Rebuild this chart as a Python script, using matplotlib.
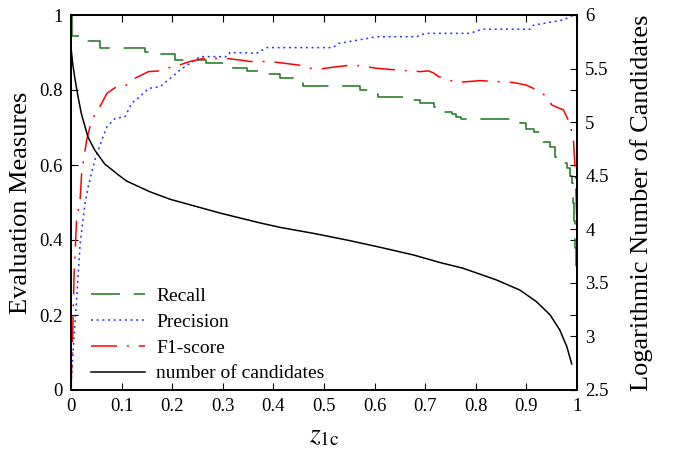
import numpy as np
import matplotlib
matplotlib.use("Agg")
import matplotlib.pyplot as plt
from matplotlib.ticker import FormatStrFormatter

plt.rcParams['font.family'] = ['Liberation Serif', 'DejaVu Serif']
plt.rcParams['mathtext.fontset'] = 'stix'

# ---------------- data ----------------
# Recall (step curve)
recall_x = [0.0, 0.002, 0.034, 0.057, 0.146, 0.176, 0.206, 0.267, 0.32, 0.347,
            0.38, 0.413, 0.44, 0.459, 0.571, 0.594, 0.607, 0.663, 0.69, 0.706,
            0.718, 0.729, 0.752, 0.76, 0.77, 0.887, 0.90, 0.915, 0.933, 0.947,
            0.957, 0.973, 0.98, 0.986, 0.99, 0.993, 0.995, 0.997, 0.999, 1.0]
recall_y = [1.0, 0.945, 0.931, 0.911, 0.902, 0.895, 0.88, 0.871, 0.858, 0.851,
            0.842, 0.832, 0.822, 0.811, 0.80, 0.79, 0.782, 0.773, 0.765, 0.765,
            0.755, 0.742, 0.735, 0.727, 0.722, 0.711, 0.695, 0.689, 0.662, 0.649,
            0.622, 0.605, 0.591, 0.57, 0.551, 0.50, 0.45, 0.38, 0.32, 0.32]

# Precision
prec_x = [0.0, 0.001, 0.0046, 0.011, 0.018, 0.028, 0.034, 0.047, 0.061, 0.071,
          0.087, 0.107, 0.12, 0.136, 0.153, 0.176, 0.196, 0.215, 0.235, 0.255,
          0.308, 0.314, 0.367, 0.387, 0.518, 0.528, 0.558, 0.604, 0.683, 0.70,
          0.789, 0.812, 0.907, 0.914, 0.953, 0.973, 0.993, 1.0]
prec_y = [0.0, 0.03, 0.115, 0.24, 0.39, 0.50, 0.542, 0.613, 0.667, 0.702,
          0.724, 0.729, 0.765, 0.782, 0.804, 0.809, 0.831, 0.853, 0.871, 0.889,
          0.889, 0.90, 0.898, 0.913, 0.913, 0.924, 0.931, 0.942, 0.942, 0.951,
          0.951, 0.962, 0.962, 0.973, 0.982, 0.987, 1.0, 1.0]

# F1-score
f1_x = [0.0, 0.0033, 0.006, 0.011, 0.018, 0.021, 0.031, 0.041, 0.057, 0.071,
        0.09, 0.11, 0.12, 0.153, 0.176, 0.189, 0.215, 0.235, 0.261, 0.308,
        0.334, 0.354, 0.393, 0.453, 0.472, 0.492, 0.525, 0.558, 0.604, 0.647,
        0.69, 0.706, 0.716, 0.726, 0.762, 0.808, 0.874, 0.90, 0.927, 0.943,
        0.95, 0.973, 0.986, 0.993, 0.996, 0.998, 0.999, 1.0]
f1_y = [0.0, 0.152, 0.302, 0.453, 0.507, 0.578, 0.667, 0.72, 0.755, 0.791,
        0.809, 0.813, 0.827, 0.849, 0.851, 0.858, 0.867, 0.876, 0.884, 0.884,
        0.88, 0.876, 0.876, 0.866, 0.858, 0.856, 0.862, 0.867, 0.858, 0.853,
        0.849, 0.851, 0.846, 0.836, 0.82, 0.825, 0.82, 0.813, 0.796, 0.778,
        0.76, 0.747, 0.711, 0.667, 0.596, 0.525, 0.47, 0.40]

# log number of candidates (right axis)
cand_x = [0.0, 0.0006, 0.0035, 0.0073, 0.0138, 0.0204, 0.0336, 0.0468, 0.0666,
          0.093, 0.11, 0.156, 0.196, 0.294, 0.374, 0.413, 0.479, 0.545, 0.611,
          0.677, 0.729, 0.775, 0.841, 0.887, 0.92, 0.947, 0.966, 0.98, 0.9895]
cand_y = [5.76, 5.67, 5.54, 5.42, 5.24, 5.08, 4.86, 4.74, 4.61,
          4.51, 4.45, 4.35, 4.28, 4.152, 4.059, 4.018, 3.962, 3.90, 3.832,
          3.76, 3.69, 3.636, 3.527, 3.433, 3.324, 3.20, 3.06, 2.904, 2.743]

# ---------------- plotting ----------------
fig = plt.figure(figsize=(6.75, 4.5), dpi=100)
ax = fig.add_axes([71/675, 60/450, 506/675, 375/450])
ax2 = ax.twinx()

l1, = ax.plot(recall_x, recall_y, color='#1a741a', lw=1.1, drawstyle='steps-post',
              dashes=(19, 9), label='Recall')
l2, = ax.plot(prec_x, prec_y, color='#2233ff', lw=1.1, dashes=(1.3, 2.4),
              label='Precision')
l3, = ax.plot(f1_x, f1_y, color='red', lw=1.1, dashes=(17, 6.5, 1.3, 6.5),
              label='F1-score')
l4, = ax2.plot(cand_x, cand_y, color='black', lw=1.1, label='number of candidates')

ax.set_xlim(0, 1)
ax.set_ylim(0, 1)
ax2.set_ylim(2.5, 6)
ax.set_xticks(np.arange(0, 1.01, 0.1))
ax.set_yticks(np.arange(0, 1.01, 0.2))
ax2.set_yticks(np.arange(2.5, 6.01, 0.5))
ax.xaxis.set_major_formatter(FormatStrFormatter('%g'))
ax.yaxis.set_major_formatter(FormatStrFormatter('%g'))
ax2.yaxis.set_major_formatter(FormatStrFormatter('%g'))

ax.tick_params(direction='in', length=5, width=0.8, top=True, right=True,
               labelsize=13.5, pad=6)
ax2.tick_params(direction='in', length=5, width=0.8, labelsize=13.5, pad=6)
for a in (ax, ax2):
    for s in a.spines.values():
        s.set_linewidth(1.2)

ax.set_xlabel(r'$z_{\mathrm{1c}}$', fontsize=20, labelpad=6)
ax.set_ylabel('Evaluation Measures', fontsize=19, labelpad=5)
ax2.set_ylabel('Logarithmic Number of Candidates', fontsize=19, labelpad=15)

ax2.legend(handles=[l1, l2, l3, l4], loc='lower left', bbox_to_anchor=(0.04, 0.02),
           frameon=False, fontsize=14, handlelength=2.75, handletextpad=0.6,
           labelspacing=0.42, borderpad=0, borderaxespad=0)

fig.savefig('out.png', dpi=100)
